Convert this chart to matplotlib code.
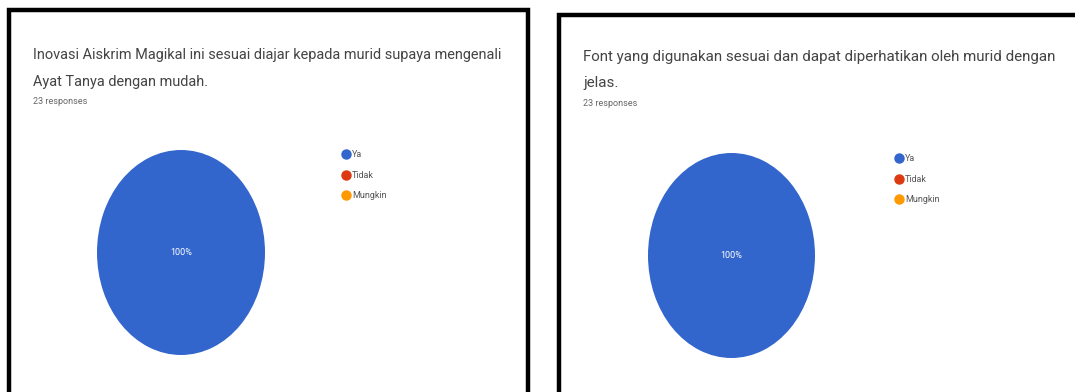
import matplotlib
matplotlib.use('Agg')
import matplotlib.pyplot as plt
from matplotlib.lines import Line2D
from matplotlib.patches import Rectangle

plt.rcParams['font.family'] = ['Roboto', 'DejaVu Sans']

labels = ['Ya', 'Tidak', 'Mungkin']
colors = ['#3366cc', '#dc3912', '#ff9900']

titles = [
    'Inovasi Aiskrim Magikal ini sesuai diajar kepada murid supaya mengenali\nAyat Tanya dengan mudah.',
    'Font yang digunakan sesuai dan dapat diperhatikan oleh murid dengan\njelas.',
]
responses = ['23 responses', '23 responses']
counts = [
    [23, 0, 0],
    [23, 0, 0],
]

W, H = 1075, 392
fig = plt.figure(figsize=(W / 100, H / 100), dpi=100)


def px(x0, y0, x1, y1):
    # pixel box (top-left origin) -> figure fraction rect
    return [x0 / W, 1 - y1 / H, (x1 - x0) / W, (y1 - y0) / H]


# panel frames (bottom of both runs off the picture)
frames = [(9, 10, 528, 420), (559, 15, 1100, 420)]
for x0, y0, x1, y1 in frames:
    fig.patches.append(Rectangle((x0 / W, 1 - y1 / H), (x1 - x0) / W, (y1 - y0) / H,
                                 transform=fig.transFigure, fill=False,
                                 edgecolor='black', linewidth=3.2))

# text positions and pie boxes per panel
title_xy = [(33, 48), (583, 50)]
title_size = [10.45, 10.9]
title_ls = [2.15, 2.05]
resp_xy = [(33, 101), (583, 103)]
pie_box = [(97, 150, 265, 355), (648, 153, 815, 358)]
legend_xy = [(342, 150), (895, 154)]

for i in range(2):
    tx, ty = title_xy[i]
    fig.text(tx / W, 1 - ty / H, titles[i], fontsize=title_size[i], color='#444444',
             va='top', ha='left', linespacing=title_ls[i])
    rx, ry = resp_xy[i]
    fig.text(rx / W, 1 - ry / H, responses[i], fontsize=6.5, color='#666666',
             va='center', ha='left')

    ax = fig.add_axes(px(*pie_box[i]))
    wedges, _, autotexts = ax.pie(
        counts[i], colors=colors, startangle=90, counterclock=False,
        autopct=lambda p: '%d%%' % round(p) if p > 1 else '',
        pctdistance=0.0, textprops={'color': 'white', 'fontsize': 6.5},
        wedgeprops={'linewidth': 0},
    )
    ax.set_aspect('auto')
    ax.set_xlim(-1, 1)
    ax.set_ylim(-1, 1)
    ax.axis('off')

    handles = [Line2D([], [], marker='o', linestyle='', markersize=6.5,
                      markerfacecolor=c, markeredgecolor=c) for c in colors]
    lx, ly = legend_xy[i]
    fig.legend(handles, labels, loc='upper left',
               bbox_to_anchor=(lx / W, 1 - ly / H), frameon=False,
               fontsize=6.5, labelcolor='#555555', handlelength=0.8,
               handletextpad=0.3, labelspacing=1.3, borderpad=0,
               borderaxespad=0)

fig.savefig('out.png', dpi=100, facecolor='white')
